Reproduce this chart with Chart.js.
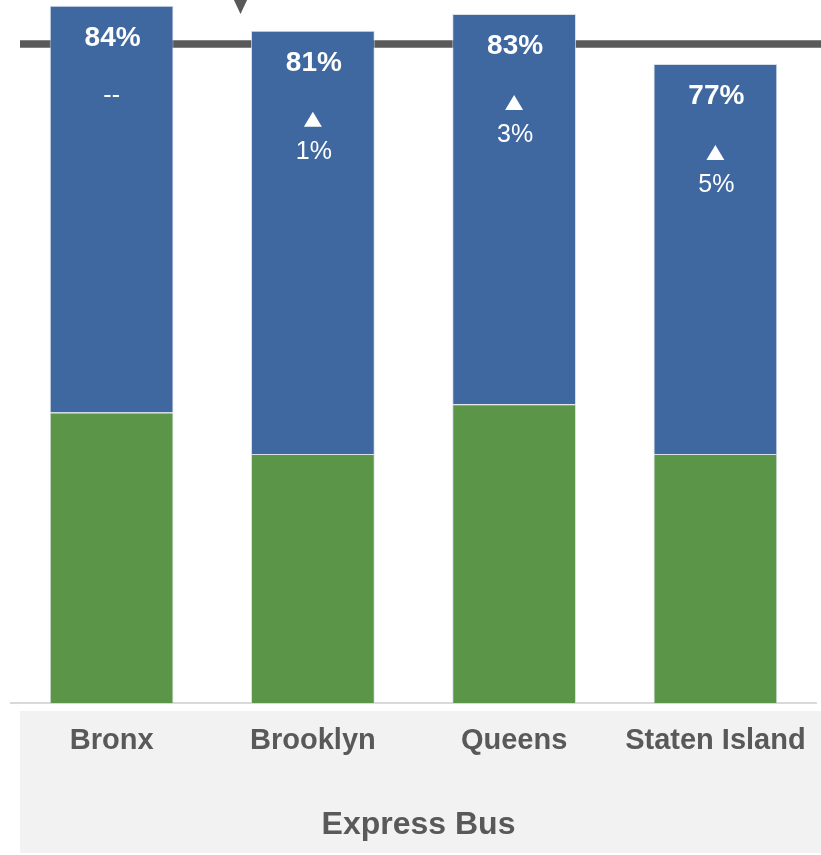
<!DOCTYPE html>
<html>
<head>
<meta charset="utf-8">
<script src="https://cdn.jsdelivr.net/npm/chart.js@4.4.1/dist/chart.umd.min.js"></script>
<style>
  html, body { margin: 0; padding: 0; background: #ffffff; }
  #wrap { width: 821px; height: 855px; }
</style>
</head>
<body>
<div id="wrap"><canvas id="grafica" width="821" height="855"></canvas></div>
<script>
// datos
const categorias = ["Bronx", "Brooklyn", "Queens", "Staten Island"];
const parteVerde = [35, 30, 36, 30];
const parteAzul = [49, 51, 47, 47];
const cambio = [null, 1, 3, 5]; // null = "--"
const meta = 79.4;
const grupo = "Express Bus";

const fuente = '"Liberation Sans", Arial, sans-serif';
const gris = "#595959";

const totales = parteVerde.map((v, i) => v + parteAzul[i]);

// fondo gris del eje, linea meta, titulo del grupo y triangulo de arriba
const decoracion = {
  id: "decoracion",
  beforeDraw(chart) {
    const { ctx, chartArea } = chart;
    const izq = chartArea.left + 9;
    ctx.save();
    ctx.fillStyle = "#f2f2f2";
    ctx.fillRect(izq, chartArea.bottom + 8, chart.width - izq, chart.height - chartArea.bottom - 10);
    // titulo del grupo, centrado en la caja gris
    ctx.fillStyle = gris;
    ctx.font = "bold 32px " + fuente;
    ctx.textAlign = "center";
    ctx.textBaseline = "middle";
    ctx.fillText(grupo, (izq + chart.width) / 2 - 2, chart.height - 30);
    ctx.restore();
  },
  beforeDatasetsDraw(chart) {
    const { ctx, chartArea, scales } = chart;
    const y = scales.y.getPixelForValue(meta);
    ctx.save();
    ctx.strokeStyle = gris;
    ctx.lineWidth = 7.5;
    ctx.beginPath();
    ctx.moveTo(chartArea.left + 9, y);
    ctx.lineTo(chart.width, y);
    ctx.stroke();
    // marcador cortado arriba
    ctx.fillStyle = gris;
    ctx.beginPath();
    ctx.moveTo(233, -2);
    ctx.lineTo(248, -2);
    ctx.lineTo(240.5, 14);
    ctx.closePath();
    ctx.fill();
    ctx.restore();
  },
  afterDatasetsDraw(chart) {
    const { ctx } = chart;
    const barras = chart.getDatasetMeta(1).data;
    ctx.save();
    ctx.fillStyle = "#ffffff";
    ctx.textAlign = "center";
    ctx.textBaseline = "middle";
    barras.forEach((bar, i) => {
      const top = bar.y;
      ctx.font = "bold 28px " + fuente;
      ctx.fillText(totales[i] + "%", bar.x + 1, top + 32.5);
      ctx.font = "25px " + fuente;
      if (cambio[i] === null) {
        ctx.fillText("--", bar.x, top + 90);
      } else {
        // flechita hacia arriba
        ctx.beginPath();
        ctx.moveTo(bar.x - 9, top + 96);
        ctx.lineTo(bar.x + 9, top + 96);
        ctx.lineTo(bar.x, top + 81);
        ctx.closePath();
        ctx.fill();
        ctx.fillText(cambio[i] + "%", bar.x + 1, top + 121);
      }
    });
    ctx.restore();
  },
};

const ctx = document.getElementById("grafica").getContext("2d");
const myChart = new Chart(ctx, {
  type: "bar",
  data: {
    labels: categorias,
    datasets: [
      {
        data: parteVerde,
        backgroundColor: "#5b9548",
        borderColor: "rgba(205,215,230,0.8)",
        borderWidth: 1,
        categoryPercentage: 1,
        barPercentage: 0.615,
      },
      {
        data: parteAzul,
        backgroundColor: "#3f68a0",
        borderColor: "rgba(205,215,230,0.8)",
        borderWidth: 1,
        categoryPercentage: 1,
        barPercentage: 0.615,
      },
    ],
  },
  options: {
    responsive: false,
    animation: false,
    layout: {
      padding: { left: 11, right: 5, top: 0, bottom: 0 },
    },
    scales: {
      x: {
        stacked: true,
        grid: { display: false },
        border: { display: true, color: "#d9d9d9", width: 2 },
        ticks: {
          color: gris,
          padding: 13,
          autoSkip: false,
          maxRotation: 0,
          font: { family: fuente, size: 29, weight: "bold" },
        },
        afterFit(scale) {
          scale.height = 152;
        },
      },
      y: {
        stacked: true,
        display: false,
        min: 0,
        max: 84.7,
      },
    },
    plugins: {
      legend: { display: false },
      tooltip: { enabled: false },
    },
  },
  plugins: [decoracion],
});
</script>
</body>
</html>
